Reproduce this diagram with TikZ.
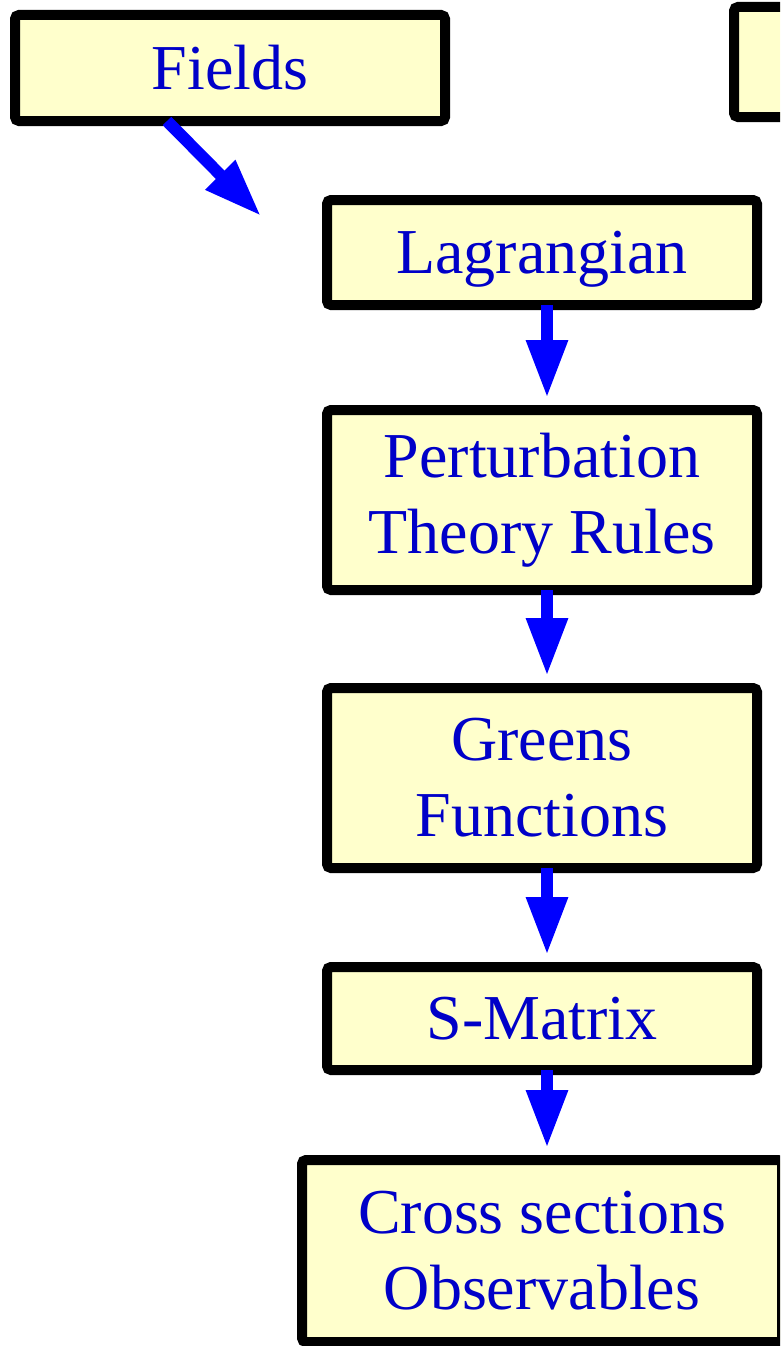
\documentclass[tikz,border=0pt]{standalone}
\usepackage{fontspec}
\setmainfont{Liberation Serif}
\usetikzlibrary{arrows.meta,calc}
\definecolor{boxfill}{HTML}{FFFFCC}
\definecolor{txtblue}{RGB}{0,0,200}
\definecolor{arrblue}{RGB}{0,0,255}
\begin{document}
\begin{tikzpicture}[x=1pt,y=-1pt,
  flowbox/.style={draw=black, line width=10pt, fill=boxfill, rounded corners=4pt,
    text=txtblue, align=center, inner sep=0pt, minimum width=430pt,
    font=\fontsize{64}{76}\selectfont},
  flowarrow/.style={draw=arrblue, line width=12pt,
    -{Triangle[width=39pt,length=58pt]}, arrblue}
]
\useasboundingbox (0,0) rectangle (780,1346);
\clip (0,0) rectangle (780,1346);
\node[flowbox, minimum height=106pt] (fields) at (230,68) {Fields};
\node[flowbox, minimum height=110pt] (other) at (949,62) {};
\node[flowbox, minimum height=105pt, text depth=0pt] (lag) at (542,252.5) {Lagrangian};
\node[flowbox, minimum height=180pt] (pert) at (542,500) {Perturbation\\Theory Rules};
\node[flowbox, minimum height=180pt] (green) at (542,778) {Greens\\Functions};
\node[flowbox, minimum height=103pt] (smat) at (542,1018.5) {S-Matrix};
\node[flowbox, minimum height=182pt, minimum width=480pt] (cross) at (542,1251) {Cross sections\\Observables};
\coordinate (diagend) at (261,216);
\draw[flowarrow] ([xshift=-63pt,yshift=5pt]fields.south) -- (diagend);
\draw[flowarrow] ([xshift=5pt,yshift=5pt]lag.south) -- ([xshift=5pt,yshift=7pt]pert.north);
\draw[flowarrow] ([xshift=5pt,yshift=5pt]pert.south) -- ([xshift=5pt,yshift=7pt]green.north);
\draw[flowarrow] ([xshift=5pt,yshift=5pt]green.south) -- ([xshift=5pt,yshift=7pt]smat.north);
\draw[flowarrow] ([xshift=5pt,yshift=5pt]smat.south) -- ([xshift=5pt,yshift=7pt]cross.north);
\end{tikzpicture}
\end{document}
